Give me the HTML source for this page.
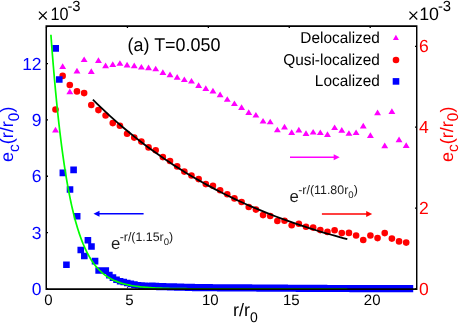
<!DOCTYPE html>
<html><head><meta charset="utf-8"><title>chart</title>
<style>html,body{margin:0;padding:0;background:#fff}body{width:463px;height:324px;overflow:hidden}</style></head>
<body>
<svg width="463" height="324" viewBox="0 0 463 324" style="display:block;will-change:transform;text-rendering:geometricPrecision;font-family:'Liberation Sans',sans-serif">
<rect width="463" height="324" fill="#fff"/>
<path d="M127.42 288.3v-1.1M208.35 288.3v-1.1M289.27 288.3v-1.1M370.20 288.3v-1.1" stroke="#000" stroke-width="1" fill="none"/>
<path d="M52.05 132.40L55.50 126.75L58.95 132.40ZM59.21 69.00L62.66 63.35L66.11 69.00ZM66.36 94.20L69.81 88.55L73.26 94.20ZM73.52 73.50L76.97 67.85L80.42 73.50ZM80.68 62.10L84.13 56.45L87.58 62.10ZM87.83 74.00L91.28 68.35L94.73 74.00ZM94.99 63.00L98.44 57.35L101.89 63.00ZM102.15 68.20L105.60 62.55L109.05 68.20ZM109.31 66.90L112.76 61.25L116.21 66.90ZM116.46 65.80L119.91 60.15L123.36 65.80ZM123.62 67.50L127.07 61.85L130.52 67.50ZM130.78 68.20L134.23 62.55L137.68 68.20ZM137.93 69.60L141.38 63.95L144.83 69.60ZM145.09 70.20L148.54 64.55L151.99 70.20ZM152.25 71.30L155.70 65.65L159.15 71.30ZM159.41 75.00L162.86 69.35L166.31 75.00ZM166.56 77.20L170.01 71.55L173.46 77.20ZM173.72 79.70L177.17 74.05L180.62 79.70ZM180.88 82.10L184.33 76.45L187.78 82.10ZM188.03 83.60L191.48 77.95L194.93 83.60ZM195.19 88.00L198.64 82.35L202.09 88.00ZM202.35 91.00L205.80 85.35L209.25 91.00ZM209.50 93.40L212.95 87.75L216.40 93.40ZM216.66 97.20L220.11 91.55L223.56 97.20ZM223.82 101.80L227.27 96.15L230.72 101.80ZM230.98 106.10L234.43 100.45L237.88 106.10ZM238.13 110.00L241.58 104.35L245.03 110.00ZM245.29 115.00L248.74 109.35L252.19 115.00ZM252.45 117.60L255.90 111.95L259.35 117.60ZM259.60 123.60L263.05 117.95L266.50 123.60ZM266.76 124.30L270.21 118.65L273.66 124.30ZM273.92 132.30L277.37 126.65L280.82 132.30ZM281.07 129.50L284.52 123.85L287.97 129.50ZM288.23 134.90L291.68 129.25L295.13 134.90ZM295.39 132.50L298.84 126.85L302.29 132.50ZM302.55 135.90L306.00 130.25L309.44 135.90ZM309.70 134.60L313.15 128.95L316.60 134.60ZM316.86 135.10L320.31 129.45L323.76 135.10ZM324.02 137.00L327.47 131.35L330.92 137.00ZM331.17 130.10L334.62 124.45L338.07 130.10ZM338.33 132.70L341.78 127.05L345.23 132.70ZM345.49 135.80L348.94 130.15L352.39 135.80ZM352.64 135.10L356.09 129.45L359.54 135.10ZM359.80 128.50L363.25 122.85L366.70 128.50ZM366.96 138.00L370.41 132.35L373.86 138.00ZM374.12 115.20L377.56 109.55L381.01 115.20ZM381.27 148.20L384.72 142.55L388.17 148.20ZM388.43 114.00L391.88 108.35L395.33 114.00ZM395.59 142.20L399.04 136.55L402.49 142.20ZM402.74 147.90L406.19 142.25L409.64 147.90Z" fill="#f0f"/>
<circle cx="55.50" cy="109.50" r="3.3" fill="#f00"/>
<circle cx="62.66" cy="75.90" r="3.3" fill="#f00"/>
<circle cx="69.81" cy="85.00" r="3.3" fill="#f00"/>
<circle cx="76.97" cy="91.40" r="3.3" fill="#f00"/>
<circle cx="84.13" cy="93.10" r="3.3" fill="#f00"/>
<circle cx="91.28" cy="105.00" r="3.3" fill="#f00"/>
<circle cx="98.44" cy="110.10" r="3.3" fill="#f00"/>
<circle cx="105.60" cy="115.50" r="3.3" fill="#f00"/>
<circle cx="112.76" cy="123.10" r="3.3" fill="#f00"/>
<circle cx="119.91" cy="125.70" r="3.3" fill="#f00"/>
<circle cx="127.07" cy="133.70" r="3.3" fill="#f00"/>
<circle cx="134.23" cy="137.60" r="3.3" fill="#f00"/>
<circle cx="141.38" cy="141.60" r="3.3" fill="#f00"/>
<circle cx="148.54" cy="147.40" r="3.3" fill="#f00"/>
<circle cx="155.70" cy="150.20" r="3.3" fill="#f00"/>
<circle cx="162.86" cy="157.10" r="3.3" fill="#f00"/>
<circle cx="170.01" cy="161.00" r="3.3" fill="#f00"/>
<circle cx="177.17" cy="166.40" r="3.3" fill="#f00"/>
<circle cx="184.33" cy="171.60" r="3.3" fill="#f00"/>
<circle cx="191.48" cy="175.50" r="3.3" fill="#f00"/>
<circle cx="198.64" cy="179.10" r="3.3" fill="#f00"/>
<circle cx="205.80" cy="184.10" r="3.3" fill="#f00"/>
<circle cx="212.95" cy="185.80" r="3.3" fill="#f00"/>
<circle cx="220.11" cy="190.20" r="3.3" fill="#f00"/>
<circle cx="227.27" cy="194.20" r="3.3" fill="#f00"/>
<circle cx="234.43" cy="198.40" r="3.3" fill="#f00"/>
<circle cx="241.58" cy="202.00" r="3.3" fill="#f00"/>
<circle cx="248.74" cy="207.00" r="3.3" fill="#f00"/>
<circle cx="255.90" cy="209.60" r="3.3" fill="#f00"/>
<circle cx="263.05" cy="215.10" r="3.3" fill="#f00"/>
<circle cx="270.21" cy="216.00" r="3.3" fill="#f00"/>
<circle cx="277.37" cy="221.00" r="3.3" fill="#f00"/>
<circle cx="284.52" cy="220.80" r="3.3" fill="#f00"/>
<circle cx="291.68" cy="225.30" r="3.3" fill="#f00"/>
<circle cx="298.84" cy="223.80" r="3.3" fill="#f00"/>
<circle cx="306.00" cy="226.70" r="3.3" fill="#f00"/>
<circle cx="313.15" cy="227.60" r="3.3" fill="#f00"/>
<circle cx="320.31" cy="230.10" r="3.3" fill="#f00"/>
<circle cx="327.47" cy="231.90" r="3.3" fill="#f00"/>
<circle cx="334.62" cy="230.30" r="3.3" fill="#f00"/>
<circle cx="341.78" cy="233.10" r="3.3" fill="#f00"/>
<circle cx="348.94" cy="232.90" r="3.3" fill="#f00"/>
<circle cx="356.09" cy="235.50" r="3.3" fill="#f00"/>
<circle cx="363.25" cy="240.00" r="3.3" fill="#f00"/>
<circle cx="370.41" cy="235.50" r="3.3" fill="#f00"/>
<circle cx="377.56" cy="238.10" r="3.3" fill="#f00"/>
<circle cx="384.72" cy="233.10" r="3.3" fill="#f00"/>
<circle cx="391.88" cy="238.60" r="3.3" fill="#f00"/>
<circle cx="399.04" cy="241.40" r="3.3" fill="#f00"/>
<circle cx="406.19" cy="242.60" r="3.3" fill="#f00"/>
<polyline points="92.90,99.69 97.14,103.85 101.38,107.92 105.62,111.90 109.86,115.79 114.10,119.59 118.34,123.32 122.58,126.96 126.82,130.52 131.06,134.00 135.30,137.41 139.54,140.74 143.78,144.00 148.02,147.18 152.26,150.30 156.50,153.35 160.74,156.33 164.98,159.25 169.22,162.10 173.46,164.89 177.70,167.62 181.94,170.29 186.18,172.90 190.42,175.45 194.66,177.94 198.90,180.39 203.14,182.77 207.38,185.11 211.62,187.39 215.86,189.63 220.10,191.81 224.34,193.95 228.58,196.04 232.82,198.09 237.06,200.08 241.30,202.04 245.54,203.95 249.78,205.82 254.02,207.65 258.26,209.44 262.50,211.19 266.74,212.90 270.98,214.58 275.22,216.22 279.46,217.82 283.70,219.38 287.94,220.91 292.18,222.41 296.42,223.88 300.66,225.31 304.90,226.71 309.14,228.08 313.38,229.42 317.62,230.74 321.86,232.02 326.10,233.27 330.34,234.50 334.58,235.70 338.82,236.87 343.06,238.02 347.30,239.14" fill="none" stroke="#000" stroke-width="1.8"/>
<path d="M52.40 45.10h6.6v6.60h-6.6ZM55.98 76.20h6.6v6.60h-6.6ZM59.56 169.60h6.6v6.60h-6.6ZM63.13 261.40h6.6v6.60h-6.6ZM66.71 186.20h6.6v6.60h-6.6ZM70.29 166.60h6.6v6.60h-6.6ZM73.87 213.00h6.6v6.60h-6.6ZM77.45 246.70h6.6v6.60h-6.6ZM81.02 252.70h6.6v6.60h-6.6ZM84.60 237.00h6.6v6.60h-6.6ZM88.18 243.20h6.6v6.60h-6.6ZM91.76 257.80h6.6v6.60h-6.6ZM95.34 267.20h6.6v6.60h-6.6ZM98.91 267.20h6.6v6.60h-6.6ZM102.49 267.30h6.6v6.60h-6.6ZM106.07 271.80h6.6v6.60h-6.6ZM109.65 274.30h6.6v6.60h-6.6ZM113.23 276.50h6.6v6.60h-6.6ZM116.80 277.88h6.6v6.60h-6.6ZM120.38 278.77h6.6v6.60h-6.6ZM123.96 279.65h6.6v6.60h-6.6ZM127.54 280.57h6.6v6.60h-6.6ZM131.12 281.32h6.6v6.60h-6.6ZM134.69 281.95h6.6v6.60h-6.6ZM138.27 282.24h6.6v6.66h-6.6ZM141.85 282.49h6.6v6.81h-6.6ZM145.43 282.69h6.6v6.95h-6.6ZM149.01 282.58h6.6v7.09h-6.6ZM152.58 282.75h6.6v7.20h-6.6ZM156.16 282.97h6.6v7.20h-6.6ZM159.74 283.08h6.6v7.20h-6.6ZM163.32 283.17h6.6v7.20h-6.6ZM166.90 283.27h6.6v7.20h-6.6ZM170.47 283.36h6.6v7.20h-6.6ZM174.05 283.46h6.6v7.20h-6.6ZM177.63 283.55h6.6v7.20h-6.6ZM181.21 283.64h6.6v7.20h-6.6ZM184.79 283.74h6.6v7.20h-6.6ZM188.36 283.83h6.6v7.20h-6.6ZM191.94 283.93h6.6v7.20h-6.6ZM195.52 284.02h6.6v7.20h-6.6ZM199.10 284.07h6.6v7.20h-6.6ZM202.68 284.09h6.6v7.20h-6.6ZM206.25 284.11h6.6v7.20h-6.6ZM209.83 284.14h6.6v7.20h-6.6ZM213.41 284.16h6.6v7.20h-6.6ZM216.99 284.18h6.6v7.20h-6.6ZM220.57 284.21h6.6v7.20h-6.6ZM224.14 284.23h6.6v7.20h-6.6ZM227.72 284.25h6.6v7.20h-6.6ZM231.30 284.28h6.6v7.20h-6.6ZM234.88 284.30h6.6v7.20h-6.6ZM238.46 284.32h6.6v7.20h-6.6ZM242.03 284.35h6.6v7.20h-6.6ZM245.61 284.37h6.6v7.20h-6.6ZM249.19 284.39h6.6v7.20h-6.6ZM252.77 284.42h6.6v7.20h-6.6ZM256.35 284.44h6.6v7.20h-6.6ZM259.92 284.46h6.6v7.20h-6.6ZM263.50 284.49h6.6v7.20h-6.6ZM267.08 284.51h6.6v7.20h-6.6ZM270.66 284.53h6.6v7.20h-6.6ZM274.24 284.56h6.6v7.20h-6.6ZM277.81 284.58h6.6v7.20h-6.6ZM281.39 284.60h6.6v7.20h-6.6ZM284.97 284.63h6.6v7.20h-6.6ZM288.55 284.65h6.6v7.20h-6.6ZM292.13 284.67h6.6v7.20h-6.6ZM295.70 284.70h6.6v7.20h-6.6ZM299.28 284.72h6.6v7.20h-6.6ZM302.86 284.74h6.6v7.20h-6.6ZM306.44 284.77h6.6v7.20h-6.6ZM310.02 284.79h6.6v7.20h-6.6ZM313.59 284.81h6.6v7.20h-6.6ZM317.17 284.84h6.6v7.20h-6.6ZM320.75 284.86h6.6v7.20h-6.6ZM324.33 284.88h6.6v7.20h-6.6ZM327.91 284.90h6.6v7.20h-6.6ZM331.48 284.91h6.6v7.20h-6.6ZM335.06 284.91h6.6v7.20h-6.6ZM338.64 284.91h6.6v7.20h-6.6ZM342.22 284.92h6.6v7.20h-6.6ZM345.80 284.92h6.6v7.20h-6.6ZM349.37 284.93h6.6v7.20h-6.6ZM352.95 284.93h6.6v7.20h-6.6ZM356.53 284.94h6.6v7.20h-6.6ZM360.11 284.94h6.6v7.20h-6.6ZM363.69 284.95h6.6v7.20h-6.6ZM367.26 284.95h6.6v7.20h-6.6ZM370.84 284.95h6.6v7.20h-6.6ZM374.42 284.96h6.6v7.20h-6.6ZM378.00 284.96h6.6v7.20h-6.6ZM381.58 284.97h6.6v7.20h-6.6ZM385.15 284.97h6.6v7.20h-6.6ZM388.73 284.98h6.6v7.20h-6.6ZM392.31 284.98h6.6v7.20h-6.6ZM395.89 284.98h6.6v7.20h-6.6ZM399.47 284.99h6.6v7.20h-6.6ZM403.04 284.99h6.6v7.20h-6.6ZM406.62 285.00h6.6v7.20h-6.6Z" fill="#00f"/>
<polyline points="50.90,34.73 50.91,34.83 50.93,35.13 50.97,35.64 51.02,36.34 51.09,37.25 51.17,38.35 51.27,39.64 51.38,41.12 51.50,42.80 51.64,44.65 51.80,46.68 51.97,48.89 52.15,51.27 52.35,53.81 52.57,56.51 52.80,59.36 53.04,62.35 53.30,65.49 53.58,68.76 53.87,72.15 54.17,75.66 54.49,79.28 54.82,83.00 55.17,86.81 55.53,90.72 55.91,94.70 56.30,98.76 56.71,102.87 57.13,107.05 57.57,111.27 58.02,115.53 58.49,119.83 58.97,124.14 59.47,128.48 59.98,132.83 60.51,137.18 61.05,141.52 61.60,145.86 62.17,150.18 62.76,154.47 63.36,158.74 63.97,162.97 64.60,167.16 65.25,171.30 65.91,175.40 66.58,179.44 67.27,183.41 67.97,187.33 68.69,191.18 69.43,194.95 70.18,198.66 70.94,202.28 71.72,205.83 72.51,209.29 73.32,212.67 74.14,215.97 74.98,219.18 75.83,222.30 76.70,225.33 77.58,228.27 78.47,231.12 79.39,233.88 80.31,236.55 81.25,239.13 82.21,241.62 83.18,244.03 84.17,246.34 85.17,248.57 86.18,250.71 87.21,252.76 88.26,254.74 89.32,256.63 90.39,258.44 91.48,260.17 92.58,261.82 93.70,263.40 94.84,264.91 95.98,266.35 97.15,267.71 98.33,269.01 99.52,270.25 100.73,271.42 101.95,272.53 103.19,273.58 104.44,274.58 105.71,275.52 106.99,276.41 108.28,277.25 109.60,278.05 110.92,278.79 112.26,279.49 113.62,280.16 114.99,280.78 116.38,281.36 117.78,281.91 119.19,282.42 120.62,282.90 122.07,283.35 123.53,283.76 125.00,284.16 126.49,284.52 127.99,284.86 129.51,285.18 131.05,285.47 132.60,285.75 134.16,286.00 135.74,286.24 137.33,286.45 138.94,286.66 140.56,286.84 142.20,287.02 143.85,287.18 145.52,287.32 147.20,287.46 148.90,287.59 150.61,287.70 152.34,287.81 154.08,287.91 155.83,287.99 157.60,288.08 159.39,288.15 161.19,288.22 163.01,288.28 164.84,288.34 166.68,288.39 168.54,288.44 170.42,288.49 172.31,288.53 174.21,288.56 176.13,288.60 178.06,288.63 180.01,288.65 181.98,288.68 183.95,288.70 185.95,288.72 187.96,288.74 189.98,288.76 192.02,288.77 194.07,288.78 196.14,288.80 198.22,288.81 200.32,288.82 202.43,288.83 204.55,288.83 206.70,288.84 208.85,288.85 211.02,288.85 213.21,288.86 215.41,288.86 217.63,288.87 219.86,288.87 222.10,288.87 224.36,288.88 226.64,288.88 228.93,288.88 231.23,288.88 233.55,288.89 235.88,288.89 238.23,288.89 240.60,288.89 242.97,288.89 245.37,288.89 247.78,288.89 250.20,288.89 252.64,288.90 255.09,288.90 257.56,288.90 260.04,288.90 262.54,288.90 265.05,288.90 267.58,288.90 270.12,288.90 272.67,288.90 275.24,288.90 277.83,288.90 280.43,288.90 283.05,288.90 285.68,288.90 288.32,288.90 290.98,288.90 293.66,288.90 296.35,288.90 299.05,288.90 301.77,288.90 304.51,288.90 307.26,288.90 310.02,288.90 312.80,288.90 315.59,288.90 318.40,288.90 321.22,288.90 324.06,288.90 326.91,288.90 329.78,288.90 332.66,288.90 335.56,288.90 338.47,288.90 341.40,288.90 344.34,288.90 347.30,288.90" fill="none" stroke="#0f0" stroke-width="1.7"/>
<path d="M45.5 25.35H417.45V289.9H45.5ZM47 26.9V288.3H416V26.9Z" fill="#000" fill-rule="evenodd"/>
<path d="M46.50 26.9v1.1M127.42 26.9v1.1M208.35 26.9v1.1M289.27 26.9v1.1M370.20 26.9v1.1M47 288.90h1.0M47 232.57h1.0M47 176.25h1.0M47 119.92h1.0M47 63.60h1.0M416 288.90h-1.0M416 208.04h-1.0M416 127.18h-1.0M416 46.32h-1.0" stroke="#000" stroke-width="1.3" fill="none"/>
<text x="48.50" y="305.3" font-size="15" text-anchor="middle" fill="#000">0</text>
<text x="129.43" y="305.3" font-size="15" text-anchor="middle" fill="#000">5</text>
<text x="210.35" y="305.3" font-size="15" text-anchor="middle" fill="#000">10</text>
<text x="291.27" y="305.3" font-size="15" text-anchor="middle" fill="#000">15</text>
<text x="372.20" y="305.3" font-size="15" text-anchor="middle" fill="#000">20</text>
<text x="41.6" y="294.90" font-size="17.5" text-anchor="end" fill="#00f">0</text>
<text x="41.6" y="238.57" font-size="17.5" text-anchor="end" fill="#00f">3</text>
<text x="41.6" y="182.25" font-size="17.5" text-anchor="end" fill="#00f">6</text>
<text x="41.6" y="125.92" font-size="17.5" text-anchor="end" fill="#00f">9</text>
<text x="41.6" y="69.60" font-size="17.5" text-anchor="end" fill="#00f">12</text>
<text x="419" y="294.90" font-size="17.5" text-anchor="start" fill="#f00">0</text>
<text x="419" y="214.04" font-size="17.5" text-anchor="start" fill="#f00">2</text>
<text x="419" y="133.18" font-size="17.5" text-anchor="start" fill="#f00">4</text>
<text x="419" y="52.32" font-size="17.5" text-anchor="start" fill="#f00">6</text>
<path d="M38.95 11.65L46.75 19.45M38.95 19.45L46.75 11.65" stroke="#000" stroke-width="1.25" fill="none"/>
<text transform="translate(50.40 20.4) scale(0.9 1)" font-size="18" fill="#000">10</text>
<text x="67.40" y="11.3" font-size="14.8" fill="#000">-3</text>
<path d="M409.45 11.65L417.25 19.45M409.45 19.45L417.25 11.65" stroke="#000" stroke-width="1.25" fill="none"/>
<text transform="translate(419.20 20.4) scale(0.99 1)" font-size="18" fill="#000">10</text>
<text x="437.90" y="11.3" font-size="14.8" fill="#000">-3</text>
<text transform="translate(127.6 50.7) scale(0.969 1)" font-size="18.5" fill="#000">(a) T=0.050</text>
<text transform="translate(379.9 43.3) scale(0.975 1)" font-size="15.8" text-anchor="end" fill="#000">Delocalized</text>
<text transform="translate(379.9 64.8) scale(0.975 1)" font-size="15.8" text-anchor="end" fill="#000">Qusi-localized</text>
<text transform="translate(379.9 86.2) scale(0.975 1)" font-size="15.8" text-anchor="end" fill="#000">Localized</text>
<path d="M392.9 40.1L395.9 34.8L398.9 40.1Z" fill="#f0f"/>
<circle cx="396" cy="60.0" r="3.3" fill="#f00"/>
<rect x="392.7" y="78.1" width="6.6" height="6.6" fill="#00f"/>
<path d="M290 157.2H335.7" stroke="#f0f" stroke-width="1.5" fill="none"/>
<path d="M339.7 157.2L333.7 154.2L333.7 160.2Z" fill="#f0f"/>
<path d="M321.9 214H368.2" stroke="#f00" stroke-width="1.5" fill="none"/>
<path d="M372.2 214L366.2 211.0L366.2 217.0Z" fill="#f00"/>
<path d="M143.6 213.7H97.5" stroke="#00f" stroke-width="1.5" fill="none"/>
<path d="M93.5 213.7L99.5 210.7L99.5 216.7Z" fill="#00f"/>
<text x="110.9" y="248.7" font-size="16.8" fill="#1c1c1c">e<tspan font-size="12.4" dy="-7.6" dx="-0.6">-r/(1.15r</tspan><tspan font-size="9.6" dy="3.9">0</tspan><tspan font-size="12.4" dy="-3.9">)</tspan></text>
<text x="289.5" y="201.6" font-size="16.8" fill="#1c1c1c">e<tspan font-size="12.4" dy="-7.6" dx="-0.6">-r/(11.80r</tspan><tspan font-size="9.6" dy="3.9">0</tspan><tspan font-size="12.4" dy="-3.9">)</tspan></text>
<text x="233" y="316.1" font-size="18" fill="#000">r/r<tspan font-size="14" dy="5.4">0</tspan></text>
<text transform="translate(13.4 161.9) rotate(-90)" font-size="18" fill="#00f">e<tspan font-size="15.5" dy="5.4">c</tspan><tspan dy="-5.4">(r/r</tspan><tspan font-size="15.5" dy="5.4">0</tspan><tspan dy="-5.4">)</tspan></text>
<text transform="translate(452.6 161.9) rotate(-90)" font-size="18" fill="#f00">e<tspan font-size="15.5" dy="5.4">c</tspan><tspan dy="-5.4">(r/r</tspan><tspan font-size="15.5" dy="5.4">0</tspan><tspan dy="-5.4">)</tspan></text>
</svg>
</body></html>
